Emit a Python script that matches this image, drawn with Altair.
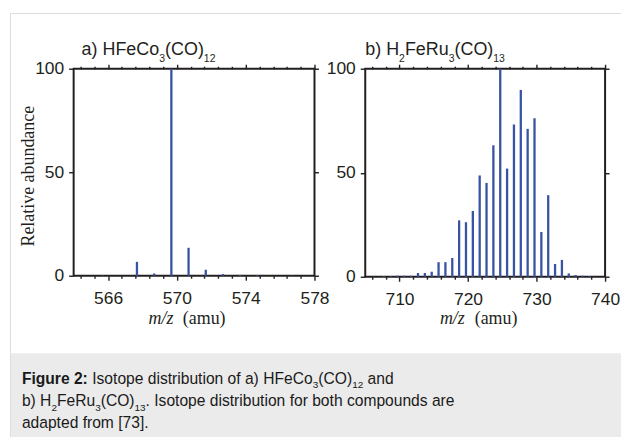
import json
import altair as alt

# ---------------- data ----------------
mz_a = [565.68, 567.68, 568.68, 569.68, 570.68, 571.68, 572.68, 573.68, 574.68, 576.68]
ab_a = [0.2, 6.7, 1.1, 100.0, 13.5, 2.9, 0.8, 0.4, 0.3, 0.2]

mz_b = [707.7, 708.7, 709.7, 710.7, 711.7, 712.7, 713.7, 714.7, 715.7, 716.7,
        717.7, 718.7, 719.7, 720.7, 721.7, 722.7, 723.7, 724.7, 725.7, 726.7,
        727.7, 728.7, 729.7, 730.7, 731.7, 732.7, 733.7, 734.7, 735.7, 736.7, 737.7]
ab_b = [0.3, 0.3, 0.5, 0.5, 0.5, 1.8, 1.8, 2.4, 7.0, 7.0,
        9.0, 27.1, 26.2, 31.6, 48.7, 45.1, 63.2, 100.0, 52.0, 73.2,
        89.8, 71.1, 76.2, 21.5, 39.2, 6.1, 8.1, 1.6, 0.8, 0.5, 0.3]

ticks_a = [564.4, 565.2, 566, 566.8, 567.6, 568.4, 569.2, 570, 570.8, 571.6,
           572.4, 573.2, 574, 574.8, 575.6, 576.4, 577.2, 578]
labels_a = [566, 570, 574, 578]
ticks_b = [706, 708, 710, 712, 714, 716, 718, 720, 722, 724, 726, 728, 730,
           732, 734, 736, 738, 740]
labels_b = [710, 720, 730, 740]
y_ticks = [0, 50, 100]

title_a = [("a) HFeCo", "r"), ("3", "s"), ("(CO)", "r"), ("12", "s")]
title_b = [("b) H", "r"), ("2", "s"), ("FeRu", "r"), ("3", "s"), ("(CO)", "r"), ("13", "s")]
caption = [
    [("Figure 2:", "b"), (" Isotope distribution of a) HFeCo", "r"), ("3", "s"),
     ("(CO)", "r"), ("12", "s"), (" and", "r")],
    [("b) H", "r"), ("2", "s"), ("FeRu", "r"), ("3", "s"), ("(CO)", "r"), ("13", "s"),
     (". Isotope distribution for both compounds are", "r")],
    [("adapted from [73].", "r")],
]
y_title = "Relative abundance"

# ---------------- style / layout ----------------
BLUE = "#3953a4"
INK = "#231f20"
SANS = "Liberation Sans"
SERIF = "Liberation Serif"
W_A, W_B, H = 242, 241, 208
OXA, OXB, OY = 73, 366, 67

AR = {' ': 278, '(': 333, ')': 333, '.': 278, ':': 278, '[': 278, ']': 278,
      'a': 556, 'b': 556, 'c': 500, 'd': 556, 'e': 556, 'f': 278, 'g': 556, 'h': 556,
      'i': 222, 'm': 833, 'n': 556, 'o': 556, 'p': 556, 'r': 333, 's': 500, 't': 278,
      'u': 556, 'C': 722, 'F': 611, 'H': 722, 'I': 278, 'O': 778, 'R': 722}
ARB = {' ': 278, ':': 333, 'F': 611, 'i': 278, 'g': 611, 'u': 611, 'r': 389, 'e': 556}


def tw(s, size, bold=False):
    t = ARB if bold else AR
    return sum(t.get(c, 556) for c in s) * size / 1000.0


def txt(s, x, y, size, font=SANS, weight="normal", style="normal", align="left",
        baseline="alphabetic", angle=None, color=INK):
    kw = dict(font=font, fontSize=size, fontWeight=weight, fontStyle=style,
              align=align, baseline=baseline, color=color)
    if angle is not None:
        kw["angle"] = angle
    return alt.Chart(alt.Data(values=[{"t": s}])).mark_text(**kw).encode(
        x=alt.value(x), y=alt.value(y), text=alt.Text("t:N"))


def runs(pieces, x0, base, size, sub, drop, ox, oy, color=INK):
    out = []
    x = x0
    for s, kind in pieces:
        if kind == "s":
            out.append(txt(s, x - ox, base + drop - oy, sub, color=color))
            x += tw(s, sub)
            continue
        bold = kind == "b"
        while s.startswith(" "):
            x += tw(" ", size, bold)
            s = s[1:]
        out.append(txt(s, x - ox, base - oy, size,
                       weight="bold" if bold else "normal", color=color))
        x += tw(s, size, bold)
    return out


def panel(mz, ab, domain, ticks, majors, w, h, before, after):
    test = "indexof(%s, datum.value) >= 0" % json.dumps(majors)
    xs = alt.Scale(domain=domain, nice=False, zero=False)
    ys = alt.Scale(domain=[0, 100], nice=False, zero=True)
    src = alt.Data(values=[{"mz": m, "ab": a} for m, a in zip(mz, ab)])
    common = dict(domain=False, grid=False, tickColor=INK, tickWidth=1.4, title=None,
                  labelFont=SANS, labelFontSize=17.5, labelColor=INK)
    xtick = {"condition": {"test": test, "value": 4.5}, "value": 2.5}
    bars = alt.Chart(src).mark_rule(color=BLUE, strokeWidth=2.3).encode(
        x=alt.X("mz:Q", scale=xs, axis=alt.Axis(
            orient="bottom", values=ticks, tickSize=xtick, labelPadding=9.5,
            labelExpr=f"{test} ? format(datum.value, 'd') : ''",
            labelOverlap=False, labelFlush=False, **common)),
        y=alt.Y("ab:Q", scale=ys, axis=alt.Axis(
            orient="left", values=y_ticks, tickSize=5, labelPadding=5,
            labelOverlap=False, labelFlush=False, **common)),
        y2=alt.datum(0),
    )
    frame = alt.Chart(src).mark_point(opacity=0).encode(
        x=alt.X("mz:Q", scale=xs, axis=alt.Axis(
            orient="top", values=ticks, tickSize=xtick, labels=False, **common)),
        y=alt.Y("ab:Q", scale=ys, axis=alt.Axis(
            orient="right", values=y_ticks, tickSize=4, labels=False, **common)),
    )
    return alt.layer(*before, bars, frame, *after).resolve_axis(
        x="independent", y="independent").properties(width=w, height=h)


ONE = alt.Data(values=[{"k": 0}])

# page furniture drawn in panel a's coordinate frame
page = [
    alt.Chart(ONE).mark_rect(fill="white", fillOpacity=0, strokeOpacity=0).encode(
        x=alt.value(-OXA), x2=alt.value(623 - OXA), y=alt.value(-OY), y2=alt.value(437 - OY)),
    alt.Chart(ONE).mark_rect(fill="#ebebeb").encode(
        x=alt.value(10 - OXA), x2=alt.value(623 - OXA), y=alt.value(353 - OY), y2=alt.value(437 - OY)),
    alt.Chart(ONE).mark_rule(color="#dcdcdc", strokeWidth=1).encode(
        x=alt.value(9.5 - OXA), x2=alt.value(623 - OXA), y=alt.value(11.5 - OY)),
    alt.Chart(ONE).mark_rule(color="#dcdcdc", strokeWidth=1).encode(
        x=alt.value(9.5 - OXA), y=alt.value(11.5 - OY), y2=alt.value(437 - OY)),
]

texts_a = []
texts_a += runs(title_a, 81, 53.3, 18, 10.5, 6.7, OXA, OY)
texts_a.append(txt(y_title, 33 - OXA, 175 - OY, 18, font=SERIF, align="center", angle=270))
texts_a.append(txt("m/z", 148.3 - OXA, 323 - OY, 18, font=SERIF, style="italic"))
texts_a.append(txt("(amu)", 182.7 - OXA, 323 - OY, 18, font=SERIF))
for i, line in enumerate(caption):
    texts_a += runs(line, 21, 383.5 + 22.5 * i, 15.7, 10, 4.5, OXA, OY, color="#1a1a1a")

texts_b = []
texts_b += runs(title_b, 366, 53.3, 18, 10.5, 6.7, OXB, OY)
texts_b.append(txt("m/z", 441 - OXB, 323 - OY, 18, font=SERIF, style="italic"))
texts_b.append(txt("(amu)", 476 - OXB, 323 - OY, 18, font=SERIF))

pa = panel(mz_a, ab_a, [564, 578], ticks_a, labels_a, W_A, H, page, texts_a)
pb = panel(mz_b, ab_b, [705, 740], ticks_b, labels_b, W_B, H + 1, [], texts_b)

chart = alt.HConcatChart(hconcat=[pa, pb], spacing=OXB - OXA - W_A, bounds="flush").properties(
    padding=0, background="white"
).configure_view(stroke=INK, strokeWidth=2)

chart.save("out.html", embed_options={"renderer": "svg", "actions": False})
